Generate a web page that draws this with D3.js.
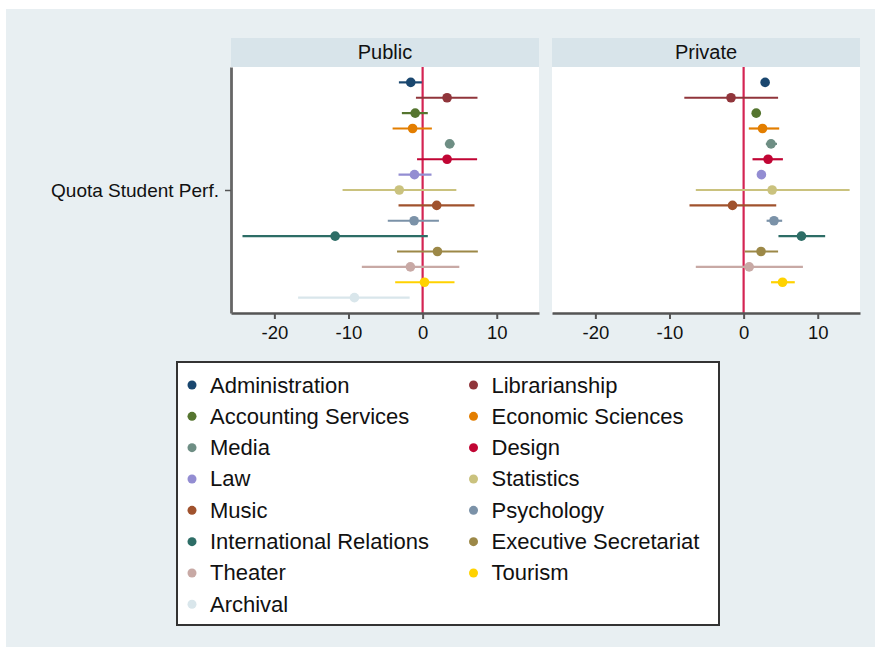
<!DOCTYPE html>
<html><head><meta charset="utf-8">
<script src="https://cdn.jsdelivr.net/npm/d3@7/dist/d3.min.js"></script>
<style>
html,body{margin:0;padding:0;background:#fff;}
svg{display:block;font-family:Arial,"Liberation Sans",sans-serif;}
</style></head>
<body>
<svg id="chart" width="875" height="647"></svg>
<script>
const categories = ["Administration","Librarianship","Accounting Services","Economic Sciences","Media","Design","Law","Statistics","Music","Psychology","International Relations","Executive Secretariat","Theater","Tourism","Archival"];
const colors = ["#1a476f","#90353b","#55752f","#e37e00","#6e8e84","#c10534","#938dd2","#cac27e","#a0522d","#7b92a8","#2d6d66","#9c8847","#c8a9a5","#ffd200","#d9e6eb"];
const panels = ["Public","Private"];
const yLabel = ["Quota Student Perf."];
const xTicks = [-20,-10,0,10];

const publicEst = [-1.6, 3.3, -1.0, -1.35, 3.65, 3.3, -1.1, -3.15, 1.9, -1.15, -11.8, 2.0, -1.65, 0.25, -9.2];
const publicLo  = [-3.2, -0.9, -2.8, -4.05, 3.0, -0.75, -3.25, -10.8, -3.25, -4.7, -24.3, -3.45, -8.2, -3.7, -16.8];
const publicHi  = [-0.1, 7.4, 0.7, 1.25, 4.3, 7.35, 1.2, 4.55, 7.0, 2.2, 0.7, 7.45, 4.95, 4.3, -1.75];

const privateEst = [2.9, -1.7, 1.7, 2.55, 3.7, 3.3, 2.4, 3.85, -1.5, 4.1, 7.8, 2.35, 0.75, 5.25, null];
const privateLo  = [2.5, -8.0, 1.2, 0.7, 3.0, 1.2, 2.0, -6.45, -7.3, 3.1, 4.7, 0.15, -6.45, 3.7, null];
const privateHi  = [3.3, 4.65, 2.3, 4.8, 4.5, 5.3, 2.8, 14.3, 4.4, 5.2, 11.0, 4.65, 8.0, 6.9, null];

const panelData = [
  {name: panels[0], est: publicEst, lo: publicLo, hi: publicHi, x0: 231, x1: 539, yaxis: true},
  {name: panels[1], est: privateEst, lo: privateLo, hi: privateHi, x0: 552, x1: 860, yaxis: false}
];

const svg = d3.select("#chart");
svg.append("rect").attr("x",6).attr("y",9).attr("width",869).attr("height",638).attr("fill","#e8eff2");

const plotTop = 67, plotBottom = 313, headTop = 38;
const xDomain = [-25.85, 15.7];
const yRows = d3.scalePoint().domain(categories).range([plotTop, plotBottom]).padding(1);
const yCat = d3.scalePoint().domain(yLabel).range([plotTop, plotBottom]).padding(0.5);
const FONT = "Arial, 'Liberation Sans', sans-serif";

panelData.forEach(p => {
  const x = d3.scaleLinear().domain(xDomain).range([p.x0, p.x1]);
  const g = svg.append("g");
  g.append("rect").attr("x",p.x0).attr("y",headTop).attr("width",p.x1-p.x0).attr("height",plotTop-headTop).attr("fill","#d8e4ea");
  g.append("text").attr("x",(p.x0+p.x1)/2).attr("y",(headTop+plotTop)/2+1).attr("text-anchor","middle")
    .attr("dominant-baseline","middle").attr("font-size",20).attr("fill","#111").text(p.name);
  g.append("rect").attr("x",p.x0).attr("y",plotTop).attr("width",p.x1-p.x0).attr("height",plotBottom-plotTop).attr("fill","#fff");

  g.append("line").attr("x1",x(0)).attr("x2",x(0)).attr("y1",plotTop).attr("y2",plotBottom)
    .attr("stroke","#d42453").attr("stroke-width",2.2);

  const rows = categories.map((c,i)=>({c, i, est:p.est[i], lo:p.lo[i], hi:p.hi[i]})).filter(d=>d.est!==null);
  g.selectAll("line.ci").data(rows).join("line").attr("class","ci")
    .attr("x1",d=>x(d.lo)).attr("x2",d=>x(d.hi)).attr("y1",d=>yRows(d.c)).attr("y2",d=>yRows(d.c))
    .attr("stroke",d=>colors[d.i]).attr("stroke-width",2.2);
  g.selectAll("circle.pt").data(rows).join("circle").attr("class","pt")
    .attr("cx",d=>x(d.est)).attr("cy",d=>yRows(d.c)).attr("r",4.8).attr("fill",d=>colors[d.i]);

  const ax = g.append("g").attr("transform",`translate(0,${plotBottom})`)
    .call(d3.axisBottom(x).tickValues(xTicks).tickFormat(d=>String(d)).tickSize(6).tickSizeOuter(0).tickPadding(7));
  ax.select(".domain").attr("stroke","#555").attr("stroke-width",2.6);
  ax.selectAll(".tick line").attr("stroke","#555").attr("stroke-width",2);
  ax.selectAll(".tick text").attr("font-size",18.5).attr("fill","#111").attr("font-family",FONT);

  if (p.yaxis) {
    const ay = g.append("g").attr("transform",`translate(${p.x0},0)`)
      .call(d3.axisLeft(yCat).tickSize(6).tickSizeOuter(0).tickPadding(6));
    ay.select(".domain").attr("stroke","#666").attr("stroke-width",2.8);
    ay.selectAll(".tick line").attr("stroke","#555").attr("stroke-width",1.5);
    ay.selectAll(".tick text").attr("font-size",19).attr("fill","#111").attr("font-family",FONT);
  }
});

const lg = svg.append("g");
lg.append("rect").attr("x",177).attr("y",362).attr("width",542).attr("height",263)
  .attr("fill","#fff").attr("stroke","#333").attr("stroke-width",2);
const colX = [192, 473.5];
const rowY = d3.scaleLinear().domain([0,7]).range([385, 604.3]);
const items = lg.selectAll("g.item").data(categories).join("g").attr("class","item")
  .attr("transform",(d,i)=>`translate(${colX[i%2]},${rowY(Math.floor(i/2))})`);
items.append("circle").attr("r",4.5).attr("fill",(d,i)=>colors[i]);
items.append("text").attr("x",18).attr("y",0).attr("dominant-baseline","central")
  .attr("font-size",22).attr("fill","#111").text(d=>d);
</script>
</body></html>
